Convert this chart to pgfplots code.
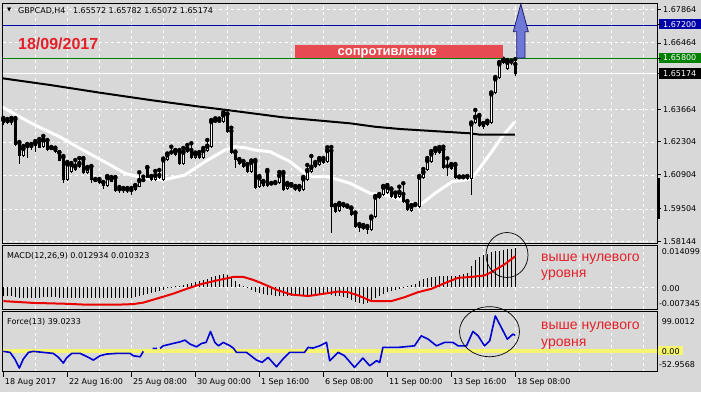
\documentclass[border=0pt]{standalone}
\usepackage{pgfplots}
\pgfplotsset{compat=1.18}
\usepackage{pgfplotstable}
\usepackage{fontspec}
\setmainfont{DejaVu Sans}
\newfontfamily\arial{Liberation Sans}
\definecolor{bg}{RGB}{216,216,216}
\definecolor{mtred}{RGB}{228,32,40}
\definecolor{boxred}{RGB}{232,74,82}
\definecolor{arrowblue}{RGB}{110,120,215}
\definecolor{arrowdark}{RGB}{30,30,110}
\definecolor{lvlblue}{RGB}{0,0,170}
\definecolor{lvlgreen}{RGB}{0,128,0}
\definecolor{macdred}{RGB}{235,0,0}
\definecolor{forceblue}{RGB}{0,0,210}
\definecolor{zeroyellow}{RGB}{245,245,110}

\pgfplotstableread{
i o h l c
0 1.63233 1.63317 1.63024 1.63108
1 1.63120 1.63276 1.63066 1.63204
2 1.63191 1.63317 1.63024 1.63149
3 1.63263 1.63317 1.62146 1.62188
4 1.62272 1.62313 1.61393 1.61727
5 1.61727 1.62146 1.61685 1.62062
6 1.62062 1.62230 1.61643 1.62188
7 1.62146 1.62230 1.61978 1.62104
8 1.62146 1.62355 1.61894 1.62284
9 1.62326 1.62439 1.62062 1.62075
10 1.62092 1.62564 1.62062 1.62426
11 1.62368 1.62397 1.61936 1.61978
12 1.62062 1.62104 1.61978 1.62000
13 1.62008 1.62075 1.61853 1.61882
14 1.61865 1.61894 1.61518 1.61531
15 1.61673 1.61727 1.60611 1.60724
16 1.60724 1.61476 1.60682 1.61422
17 1.61071 1.61435 1.61037 1.61393
18 1.61142 1.61560 1.61100 1.61322
19 1.61267 1.61643 1.61225 1.61435
20 1.61589 1.61643 1.60975 1.61004
21 1.61017 1.61267 1.60975 1.61225
22 1.61280 1.61309 1.60586 1.60724
23 1.60724 1.60765 1.60640 1.60661
24 1.60724 1.60765 1.60557 1.60586
25 1.60611 1.60640 1.60335 1.60473
26 1.60473 1.60891 1.60431 1.60849
27 1.60653 1.60849 1.60640 1.60808
28 1.60808 1.60849 1.60242 1.60276
29 1.60335 1.60431 1.60192 1.60305
30 1.60335 1.60389 1.60192 1.60305
31 1.60318 1.60389 1.60192 1.60292
32 1.60305 1.60389 1.60096 1.60284
33 1.60305 1.60515 1.60263 1.60486
34 1.60444 1.61046 1.60431 1.60724
35 1.60724 1.60862 1.60628 1.60695
36 1.61238 1.61267 1.60795 1.60820
37 1.60862 1.60891 1.60695 1.60724
38 1.60724 1.61100 1.60682 1.60933
39 1.60933 1.61142 1.60765 1.60795
40 1.60724 1.61622 1.60682 1.61589
41 1.61560 1.61832 1.61518 1.61798
42 1.61882 1.62117 1.61769 1.61798
43 1.61769 1.61978 1.61727 1.61936
44 1.61936 1.61978 1.61351 1.61380
45 1.61380 1.62062 1.61351 1.61907
46 1.61882 1.62188 1.61853 1.62050
47 1.61978 1.62259 1.61622 1.61656
48 1.61656 1.61873 1.61622 1.61840
49 1.61798 1.61894 1.61622 1.61656
50 1.61656 1.62062 1.61601 1.61978
51 1.61936 1.62397 1.61894 1.62159
52 1.62117 1.63233 1.62083 1.63191
53 1.63204 1.63305 1.63095 1.63179
54 1.63204 1.63296 1.63120 1.63179
55 1.63137 1.63556 1.63108 1.63472
56 1.63472 1.63506 1.62710 1.62744
57 1.62773 1.62911 1.61811 1.61840
58 1.61882 1.61915 1.61238 1.61560
59 1.61560 1.61601 1.61351 1.61380
60 1.61489 1.61518 1.61246 1.61280
61 1.61351 1.61393 1.61017 1.61058
62 1.61071 1.61539 1.61037 1.61489
63 1.61489 1.61560 1.60347 1.60377
64 1.60444 1.60891 1.60410 1.60837
65 1.60473 1.60682 1.60431 1.60653
66 1.61071 1.61142 1.60431 1.60473
67 1.60578 1.60598 1.60515 1.60536
68 1.60598 1.60640 1.60536 1.60569
69 1.60586 1.61058 1.60557 1.60933
70 1.61004 1.61058 1.60276 1.60305
71 1.60335 1.60598 1.60305 1.60557
72 1.60486 1.60557 1.60431 1.60460
73 1.60389 1.60473 1.60263 1.60360
74 1.60276 1.60473 1.60242 1.60444
75 1.60305 1.60849 1.60263 1.60795
76 1.60724 1.61351 1.60682 1.61142
77 1.61071 1.61727 1.61037 1.61280
78 1.61280 1.61476 1.61246 1.61422
79 1.61351 1.61643 1.61309 1.61589
80 1.61435 1.61643 1.61393 1.61589
81 1.61489 1.62092 1.61455 1.61978
82 1.61949 1.62104 1.58494 1.59607
83 1.59636 1.59678 1.59364 1.59398
84 1.59440 1.59762 1.59406 1.59720
85 1.59691 1.59720 1.59552 1.59582
86 1.59607 1.59657 1.59511 1.59540
87 1.59540 1.59573 1.59231 1.59260
88 1.59331 1.59364 1.58736 1.58770
89 1.58841 1.58883 1.58561 1.58703
90 1.58757 1.58841 1.58632 1.58728
91 1.58745 1.58799 1.58465 1.58632
92 1.58632 1.59197 1.58590 1.59164
93 1.59164 1.60054 1.59134 1.60025
94 1.59958 1.60138 1.59929 1.60096
95 1.60096 1.60473 1.60067 1.60444
96 1.60167 1.60515 1.60138 1.60444
97 1.60335 1.60368 1.59992 1.60025
98 1.60167 1.60200 1.59929 1.59958
99 1.60025 1.60444 1.59992 1.60234
100 1.60138 1.60586 1.59782 1.59816
101 1.59816 1.59845 1.59440 1.59469
102 1.59440 1.59678 1.59406 1.59636
103 1.59678 1.59720 1.59594 1.59649
104 1.59607 1.60891 1.59573 1.60862
105 1.60795 1.61184 1.60765 1.61071
106 1.61142 1.61643 1.61100 1.61560
107 1.61489 1.61936 1.61455 1.61840
108 1.61840 1.62062 1.61790 1.62008
109 1.61840 1.62104 1.61811 1.62008
110 1.62008 1.62117 1.61184 1.61213
111 1.61296 1.61630 1.60891 1.61267
112 1.61171 1.61393 1.61142 1.61351
113 1.61351 1.61393 1.60765 1.60795
114 1.60837 1.60870 1.60765 1.60808
115 1.60837 1.60870 1.60765 1.60808
116 1.60862 1.60891 1.60724 1.60753
117 1.60753 1.63128 1.60096 1.63095
118 1.63095 1.63652 1.63066 1.63372
119 1.63401 1.63443 1.62940 1.62982
120 1.63066 1.63108 1.62877 1.62927
121 1.63024 1.63204 1.62982 1.63162
122 1.63120 1.64384 1.63087 1.64350
123 1.64350 1.65032 1.64321 1.64978
124 1.64978 1.65659 1.64949 1.65605
125 1.65605 1.65795 1.65576 1.65743
126 1.65354 1.65743 1.65325 1.65672
127 1.65605 1.65714 1.65555 1.65672
128 1.65572 1.65782 1.65072 1.65174
}\candles

\pgfplotstableread{
i p
-0.2 1.64978
11.7 1.64698
24.2 1.64375
36.7 1.64070
49.2 1.63790
55.9 1.63652
69.9 1.63347
86.7 1.63095
92.9 1.62953
99.2 1.62857
116.7 1.62677
119.2 1.62619
127.9 1.62619
}\maslow

\pgfplotstableread{
i p
-0.2 1.63777
4.2 1.63359
7.4 1.63066
14.2 1.62522
19.9 1.61978
25.9 1.61435
30.4 1.61004
35.4 1.60795
39.9 1.60724
45.4 1.60933
50.4 1.61489
55.4 1.61978
57.9 1.62117
60.4 1.62075
62.9 1.61978
66.7 1.61907
71.7 1.61489
74.9 1.61071
77.2 1.60862
80.9 1.60862
83.4 1.60753
86.7 1.60586
91.7 1.60167
95.4 1.60096
101.2 1.59816
103.7 1.59607
107.9 1.60167
112.2 1.60653
115.4 1.60724
117.2 1.60795
121.2 1.61698
124.7 1.62535
127.9 1.63162
}\mafast

\pgfplotstableread{
i v
0 -0.0030
1 -0.0031
2 -0.0031
3 -0.0033
4 -0.0036
5 -0.0037
6 -0.0037
7 -0.0037
8 -0.0036
9 -0.0035
10 -0.0034
11 -0.0034
12 -0.0034
13 -0.0034
14 -0.0035
15 -0.0038
16 -0.0038
17 -0.0038
18 -0.0037
19 -0.0036
20 -0.0036
21 -0.0036
22 -0.0037
23 -0.0038
24 -0.0038
25 -0.0038
26 -0.0037
27 -0.0036
28 -0.0037
29 -0.0037
30 -0.0037
31 -0.0036
32 -0.0035
33 -0.0033
34 -0.0030
35 -0.0027
36 -0.0023
37 -0.0020
38 -0.0017
39 -0.0013
40 -0.0009
41 -0.0004
42 -0.0001
43 0.0002
44 0.0004
45 0.0007
46 0.0010
47 0.0013
48 0.0017
49 0.0020
50 0.0023
51 0.0027
52 0.0033
53 0.0038
54 0.0041
55 0.0043
56 0.0042
57 0.0033
58 0.0022
59 0.0012
60 0.0004
61 -0.0003
62 -0.0010
63 -0.0017
64 -0.0021
65 -0.0024
66 -0.0027
67 -0.0028
68 -0.0029
69 -0.0029
70 -0.0030
71 -0.0030
72 -0.0030
73 -0.0030
74 -0.0029
75 -0.0028
76 -0.0027
77 -0.0026
78 -0.0025
79 -0.0024
80 -0.0023
81 -0.0023
82 -0.0026
83 -0.0029
84 -0.0030
85 -0.0033
86 -0.0038
87 -0.0044
88 -0.0050
89 -0.0055
90 -0.0056
91 -0.0052
92 -0.0047
93 -0.0038
94 -0.0030
95 -0.0022
96 -0.0016
97 -0.0013
98 -0.0010
99 -0.0006
100 -0.0002
101 0.0002
102 0.0008
103 0.0012
104 0.0019
105 0.0026
106 0.0030
107 0.0033
108 0.0035
109 0.0036
110 0.0036
111 0.0036
112 0.0037
113 0.0038
114 0.0040
115 0.0043
116 0.0047
117 0.0072
118 0.0092
119 0.0100
120 0.0106
121 0.0112
122 0.0116
123 0.0120
124 0.0122
125 0.0124
126 0.0127
127 0.0129
128 0.012934
}\macdhist

\pgfplotstableread{
i v
0 -0.0047
7.5 -0.0053
15.8 -0.0056
20.8 -0.0059
28.3 -0.0059
32.5 -0.0057
35 -0.0052
38.3 -0.0039
42.5 -0.0022
45.8 -0.0006
49.2 0.0009
53.3 0.0022
57.5 0.0034
60 0.0034
62.5 0.0024
64.2 0.0015
68.7 -0.0011
72 -0.0025
76.2 -0.0030
80.3 -0.0022
83.7 -0.0015
86.2 -0.0017
88.7 -0.0028
92 -0.0047
97 -0.0047
100.3 -0.0034
103.7 -0.0017
107 -0.0006
110.3 0.0013
113.7 0.0031
117 0.0034
120.3 0.0039
122 0.0050
125.3 0.0076
128 0.010323
}\macdsig

\pgfplotstableread{
i v
0 -1.5
1.7 -4.0
2.9 -21
4.0 -43.7
5.0 -21
6.3 -4.0
7.5 -1.5
10 -4.0
12.5 -6.6
13.8 -16.7
15 -31
15.8 -18.4
17.1 -6.6
19.2 -6.6
21.3 -16.7
22.5 -23.5
24.2 -12.6
25.8 -8.3
28.3 -6.6
31.7 -6.6
32.5 -12.6
34.2 -15.1
35 -1.5
nan nan
37.3 6.1
38.4 6.1
nan nan
39.2 6.1
40 12.6
42.5 18.7
44.2 22.7
45.4 27
46.7 16.9
48.3 10.1
49.6 18.7
50.7 21.2
51.8 49
52.9 21.2
53.8 12.6
55 21.2
56.7 12.6
57.5 6.8
58.3 -4
60.8 -4
63.3 -23.5
64.7 -29.3
66.2 -16.7
68.3 -40.4
69.9 -21
71.6 -4
75.3 -4
76.2 8.6
77.4 6.8
79.1 12.6
80.8 21.2
81.6 -25.2
83.7 -4
85.3 -12.6
87.8 -41.9
89.9 -18.4
91.6 -37.9
93.3 -25.2
94.1 -29.3
94.9 8.6
98.7 8.6
100.3 10.1
102.8 12.6
104.5 37.9
106.2 29.5
108.3 12.6
110.3 21.2
112.4 21.2
113.7 12.6
115.8 12.6
117.4 49
118.7 37.9
120.3 12.6
121.6 25.2
123 88.3
124.5 59.1
126 29.5
127.4 42.2
128 39.0233
}\force

\pgfplotsset{mtpanel/.style={scale only axis, anchor=south west, width=654pt,
  xmin=-0.075, xmax=163.425,
  axis line style={black, line width=1pt},
  axis background/.style={fill=bg},
  xtick={8,16,...,160}, xticklabel=\empty, yticklabel=\empty,
  scaled x ticks=false, scaled y ticks=false,
  xmajorgrids, ymajorgrids,
  grid style={white, line width=0.8pt, dash pattern=on 3pt off 3pt},
  major tick length=0pt, tick style={draw=none}}}

\begin{document}
\begin{tikzpicture}[font=\fontsize{8}{9.6}\selectfont]
\path[use as bounding box, fill=bg] (0pt,0pt) rectangle (701pt,392pt);

% ---------- main price panel ----------
\begin{axis}[mtpanel, at={(3pt,149pt)}, height=240pt,
  ymin=1.58089, ymax=1.68128,
  ytick={1.58144,1.59504,1.60904,1.62304,1.63664,1.66464,1.67864}]
\addplot[lvlblue, line width=1pt, mark=none] coordinates {(-1,1.672) (170,1.672)};
\addplot[lvlgreen, line width=1pt, mark=none] coordinates {(-1,1.658) (170,1.658)};
\addplot[white, line width=1pt, mark=none] coordinates {(-1,1.65174) (170,1.65174)};
\addplot[white, line width=3pt, mark=none, line join=round] table[x=i,y=p] {\mafast};
\addplot[black, line width=2pt, mark=none, line join=round] table[x=i,y=p] {\maslow};
% wicks
\addplot[only marks, mark=none, error bars/.cd, y dir=minus, y explicit, error mark=none,
  error bar style={black, line width=1pt}]
  table[x=i, y=h, y error minus expr={\thisrow{h}-\thisrow{l}}] {\candles};
% bodies
\addplot[only marks, mark=none, error bars/.cd, y dir=minus, y explicit, error mark=none,
  error bar style={black, line width=3.1pt}]
  table[x=i, y expr={max(\thisrow{o},\thisrow{c})},
        y error minus expr={max(abs(\thisrow{o}-\thisrow{c}),0.00042)}] {\candles};
% hollow (bullish) interiors
\addplot[only marks, mark=none, restrict expr to domain={\thisrow{c}-\thisrow{o}}{0.00085:1},
  error bars/.cd, y dir=minus, y explicit, error mark=none,
  error bar style={white, line width=1.2pt}]
  table[x=i, y expr={\thisrow{c}-0.00042},
        y error minus expr={\thisrow{c}-\thisrow{o}-0.00084}] {\candles};
\end{axis}

% ---------- MACD panel ----------
\begin{axis}[mtpanel, at={(3pt,83pt)}, height=64pt,
  ymin=-0.007345, ymax=0.014099, ytick={0}]
\addplot[ycomb, black, line width=0.8pt, mark=none] table[x=i,y=v] {\macdhist};
\addplot[macdred, line width=2pt, mark=none, line join=round] table[x=i,y=v] {\macdsig};
\end{axis}

% ---------- Force panel ----------
\begin{axis}[mtpanel, at={(3pt,20.3pt)}, height=60pt,
  ymin=-52.9568, ymax=99.0012, ytick={0}, unbounded coords=jump]
\addplot[zeroyellow, line width=4pt, mark=none] coordinates {(-1,0) (170,0)};
\addplot[forceblue, line width=1.6pt, mark=none, line join=round] table[x=i,y=v] {\force};
\end{axis}

\begin{scope}[x=1pt,y=1pt]
% ---------- annotations ----------
\fill[boxred] (295,334.3) rectangle (503,347);
\node[anchor=base west, inner sep=0pt, text=white, font=\arial\bfseries\fontsize{13}{14}\selectfont] at (337.5,336.8) {сопротивление};
\node[anchor=base west, inner sep=0pt, text=mtred, font=\arial\bfseries\fontsize{16}{18}\selectfont] at (18,342) {18/09/2017};
\filldraw[fill=arrowblue, draw=arrowdark, line width=0.8pt]
  (516.7,334) -- (516.7,360.3) -- (513.3,360.3) -- (520.8,388) -- (528.3,360.3) -- (525,360.3) -- (525,334) -- cycle;

\draw[black, line width=0.7pt] (507,137) ellipse [x radius=21, y radius=22.5];
\draw[black, line width=0.7pt] (489.5,60.3) ellipse [x radius=30, y radius=25];

\node[anchor=base west, inner sep=0pt, text=mtred, font=\arial\fontsize{14}{16}\selectfont] at (541,130.3) {выше нулевого};
\node[anchor=base west, inner sep=0pt, text=mtred, font=\arial\fontsize{14}{16}\selectfont] at (541,114.3) {уровня};
\node[anchor=base west, inner sep=0pt, text=mtred, font=\arial\fontsize{14}{16}\selectfont] at (541,62.7) {выше нулевого};
\node[anchor=base west, inner sep=0pt, text=mtred, font=\arial\fontsize{14}{16}\selectfont] at (541,46) {уровня};

% headers
\node[inner sep=0pt, font=\fontsize{5.5}{6}\selectfont] at (9.2,381.6) {▼};
\node[anchor=base west, inner sep=0pt] at (18,378.5) {GBPCAD,H4\hspace{5pt} 1.65572 1.65782 1.65072 1.65174};
\node[anchor=base west, inner sep=0pt] at (7,134) {MACD(12,26,9) 0.012934 0.010323};
\node[anchor=base west, inner sep=0pt] at (7,68) {Force(13) 39.0233};

% right price scale
\fill[lvlblue] (659,362.7) rectangle (701,372.7);
\fill[lvlgreen] (659,328.7) rectangle (701,339.3);
\fill[black] (659,313) rectangle (701,323.7);
\fill[black] (656.5,172.7) rectangle (660,213.7);
\fill[zeroyellow] (658,37) rectangle (683,46);
\foreach \yy/\lab/\col in {379.3/1.67864/black, 364.7/1.67200/white, 346/1.66464/black, 331/1.65800/white, 315.3/1.65174/white, 280/1.63664/black, 247.7/1.62304/black, 214.3/1.60904/black, 181/1.59504/black, 147.7/1.58144/black}{
  \node[anchor=base west, inner sep=0pt, text=\col] at (663,\yy) {\lab};
  \draw[black, line width=0.8pt] (657,\yy+3) -- (660.5,\yy+3);
}
\node[anchor=base west, inner sep=0pt] at (661.6,138) {0.014099};
\node[anchor=base west, inner sep=0pt] at (661.6,100.3) {0.00};
\node[anchor=base west, inner sep=0pt] at (658.8,86) {-0.007345};
\node[anchor=base west, inner sep=0pt] at (661.6,68) {99.0012};
\node[anchor=base west, inner sep=0pt] at (661.6,38) {0.00};
\node[anchor=base west, inner sep=0pt] at (658.8,24.7) {-52.9568};

% time axis
\foreach \xx/\lab in {3.3/18 Aug 2017, 67.3/22 Aug 16:00, 131.3/25 Aug 08:00, 195.3/30 Aug 00:00, 259.3/1 Sep 16:00, 323.3/6 Sep 08:00, 387.3/11 Sep 00:00, 451.3/13 Sep 16:00, 515.3/18 Sep 08:00}{
  \draw[black, line width=0.8pt] (\xx,20.3) -- (\xx,15.5);
  \node[anchor=base west, inner sep=0pt] at (\xx+1.5,8) {\lab};
}
\end{scope}
\end{tikzpicture}
\end{document}
